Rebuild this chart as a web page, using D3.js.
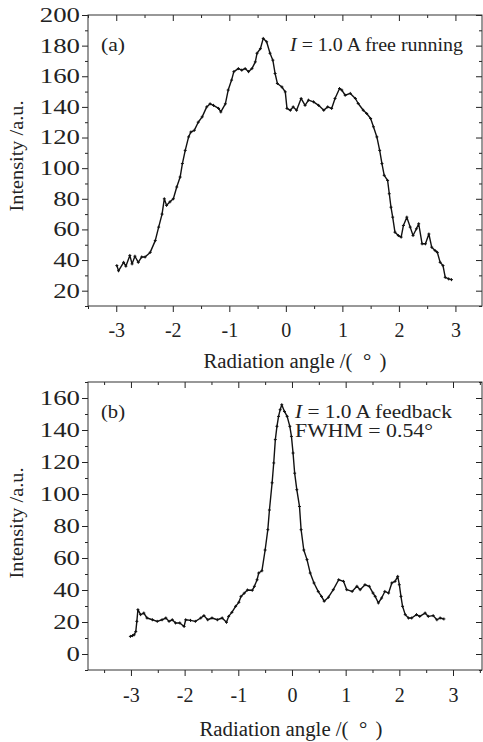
<!DOCTYPE html>
<html>
<head>
<meta charset="utf-8">
<script src="https://d3js.org/d3.v7.min.js"></script>
<style>
  html, body { margin: 0; padding: 0; background: #fff; }
  svg { display: block; }
  text { font-family: "Liberation Serif", "Times New Roman", Times, serif; fill: #222; }
</style>
</head>
<body>
<div id="chart"></div>
<script>
'use strict'

// panel (a) free running
const angleA = [-2.99,-2.96,-2.87,-2.83,-2.76,-2.72,-2.67,-2.61,-2.55,-2.49,-2.40,-2.31,-2.25,-2.19,-2.15,-2.11,-2.05,-1.99,-1.93,-1.87,-1.83,-1.78,-1.72,-1.68,-1.62,-1.55,-1.48,-1.40,-1.34,-1.28,-1.19,-1.15,-1.07,-1.02,-0.96,-0.92,-0.84,-0.78,-0.72,-0.66,-0.60,-0.54,-0.51,-0.45,-0.40,-0.34,-0.28,-0.23,-0.19,-0.15,-0.07,-0.01,0.02,0.08,0.13,0.19,0.27,0.34,0.40,0.49,0.58,0.67,0.74,0.81,0.87,0.95,0.99,1.05,1.14,1.23,1.28,1.37,1.43,1.50,1.55,1.61,1.66,1.70,1.74,1.80,1.83,1.86,1.89,1.93,1.99,2.04,2.08,2.14,2.20,2.25,2.31,2.35,2.41,2.47,2.53,2.58,2.64,2.68,2.73,2.78,2.82,2.88,2.93];
const intensityA = [36.4,33,38.5,36,43,37.5,42.5,38.5,42,42,45,52.7,61.5,70,80,75.7,78,80,87.7,94.2,103,111.6,120.4,123.6,124.7,130,133.5,140,142,141,139,136.7,142,151,157.5,163,165,164,165,163,165,169.4,175,178,184.7,182.5,175,170.5,161.8,155.3,153,149.8,139,137.8,140,137.8,145.5,141,144.4,143.3,141,137.8,140,139,145.5,152,151,147.6,148.8,145.5,142.2,137.8,135.7,132.4,127,120.4,111.6,103,95.3,92,83.3,74.5,68,58.2,56,55,62.6,68,61.5,56,60.4,63.7,50.6,50.6,57,48.4,46.2,45,38.5,36.4,28.7,27.7,27.2];

// panel (b) feedback
const angleB = [-3.01,-2.97,-2.94,-2.91,-2.89,-2.87,-2.82,-2.76,-2.70,-2.60,-2.51,-2.42,-2.35,-2.29,-2.23,-2.17,-2.09,-2.01,-1.98,-1.89,-1.80,-1.70,-1.64,-1.57,-1.49,-1.39,-1.30,-1.22,-1.18,-1.12,-1.05,-0.99,-0.95,-0.89,-0.83,-0.74,-0.70,-0.65,-0.62,-0.56,-0.50,-0.45,-0.42,-0.37,-0.34,-0.31,-0.28,-0.25,-0.22,-0.19,-0.14,-0.09,-0.04,-0.01,0.02,0.05,0.09,0.14,0.17,0.22,0.28,0.34,0.41,0.49,0.55,0.60,0.68,0.77,0.87,0.96,1.02,1.12,1.21,1.27,1.36,1.44,1.51,1.55,1.61,1.67,1.73,1.80,1.86,1.92,1.97,2.00,2.03,2.06,2.11,2.17,2.23,2.32,2.38,2.48,2.54,2.63,2.70,2.76,2.83];
const intensityB = [11,11.5,12,14,20.4,27.7,24.6,25.6,22.5,21.4,20.4,21.4,22.5,20.4,21.4,19.4,19.4,17.2,21.4,21,20.4,22.5,24,21.4,22.5,21.4,22.5,19.8,23.5,26,29.8,32.3,36,38,40,39.8,42.3,46.4,50.6,52,65,77.7,90,107,119.4,134,142.3,148.5,152.7,155.8,151.6,148.5,142.3,136,125.6,113,102.7,92.2,77.7,65,59,50.6,44.4,39,36,33,35.5,40.2,46.4,45.4,40.2,39.1,42.3,40.2,43.3,42.3,38.1,36,31.9,35,39.1,38.1,44.4,45.4,48.5,43.3,36,29.8,24.6,22.5,22.5,24.6,23.5,25.6,23.5,24,21.4,22.5,21.9];

const xTicks = [-3, -2, -1, 0, 1, 2, 3];
const xMinor = [-3.5, -2.5, -1.5, -0.5, 0.5, 1.5, 2.5, 3.5];
const yTicksA = [20, 40, 60, 80, 100, 120, 140, 160, 180, 200];
const yTicksB = [0, 20, 40, 60, 80, 100, 120, 140, 160];

const W = 483, H = 742;
const svg = d3.select("#chart").append("svg")
    .attr("width", W)
    .attr("height", H);

// the source figure is a little stretched sideways, so some texts get a fixed width
function addText(parent, str, size, width) {
    const t = parent.append("text").style("font-size", size + "px");
    if (width) t.attr("textLength", width).attr("lengthAdjust", "spacingAndGlyphs");
    return t.text(str);
}

function drawPanel(p) {
    const x = d3.scaleLinear().domain(p.xDomain).range([p.left, p.right]);
    const y = d3.scaleLinear().domain(p.yDomain).range([p.bottom, p.top]);
    const g = svg.append("g");

    const xMin = xMinor.filter(v => v >= p.xDomain[0] - 1e-6 && v <= p.xDomain[1]);
    const yMin = d3.range(p.yDomain[0], p.yDomain[1] + 1, 20);

    // minor ticks
    g.append("g").attr("transform", `translate(0,${p.bottom})`)
        .call(d3.axisBottom(x).tickValues(xMin).tickSize(3).tickSizeOuter(0).tickFormat(""));
    g.append("g").attr("transform", `translate(0,${p.top})`)
        .call(d3.axisTop(x).tickValues(xMin).tickSize(-3).tickSizeOuter(0).tickFormat(""));
    g.append("g").attr("transform", `translate(${p.left},0)`)
        .call(d3.axisLeft(y).tickValues(yMin).tickSize(3).tickSizeOuter(0).tickFormat(""));
    g.append("g").attr("transform", `translate(${p.right},0)`)
        .call(d3.axisRight(y).tickValues(yMin).tickSize(-3).tickSizeOuter(0).tickFormat(""));

    // major ticks
    g.append("g").attr("class", "xaxis").attr("transform", `translate(0,${p.bottom})`)
        .call(d3.axisBottom(x).tickValues(xTicks).tickSize(6).tickSizeOuter(0).tickPadding(p.xPad).tickFormat(d3.format("d")));
    g.append("g").attr("transform", `translate(0,${p.top})`)
        .call(d3.axisTop(x).tickValues(xTicks).tickSize(-6).tickSizeOuter(0).tickFormat(""));
    g.append("g").attr("class", "yaxis").attr("transform", `translate(${p.left},0)`)
        .call(d3.axisLeft(y).tickValues(p.yTicks).tickSize(6).tickSizeOuter(0).tickPadding(2));
    g.append("g").attr("transform", `translate(${p.right},0)`)
        .call(d3.axisRight(y).tickValues(p.yTicks).tickSize(-6).tickSizeOuter(0).tickFormat(""));

    g.selectAll(".domain").remove();
    g.selectAll(".tick line").attr("stroke", "#222").attr("stroke-width", 1);
    g.selectAll(".tick text")
        .attr("font-family", null)
        .style("font-size", "20px");
    g.selectAll(".xaxis .tick text").text(d => d < 0 ? "-" + Math.abs(d) : d);
    g.selectAll(".yaxis .tick text")
        .attr("textLength", d => String(d).length * 13.4)
        .attr("lengthAdjust", "spacingAndGlyphs");

    // frame
    g.append("rect")
        .attr("x", p.left)
        .attr("y", p.top)
        .attr("width", p.right - p.left)
        .attr("height", p.bottom - p.top)
        .attr("fill", "none")
        .attr("stroke", "#333")
        .attr("stroke-width", 1);

    const pts = p.angle.map((a, i) => [a, p.intensity[i]]);

    g.append("path")
        .datum(pts)
        .attr("fill", "none")
        .attr("stroke", "#111")
        .attr("stroke-width", 1.4)
        .attr("stroke-linejoin", "round")
        .attr("d", d3.line().x(d => x(d[0])).y(d => y(d[1])));

    g.selectAll(".mark")
        .data(pts)
        .enter()
        .append("path")
        .attr("class", "mark")
        .attr("transform", d => `translate(${x(d[0])},${y(d[1])})`)
        .attr("d", "M-1.5,0H1.5M0,-1.5V1.5")
        .attr("stroke", "#111")
        .attr("stroke-width", 1);

    // axis titles
    addText(svg, "Radiation angle /(\u2002\u00b0\u2009\u2009)", 20, 183)
        .attr("x", p.titleX - 91.5)
        .attr("y", p.bottom + p.titleOffset);

    addText(svg, "Intensity /a.u.", 19, 111)
        .attr("transform", `translate(23,${p.titleY + 55.5}) rotate(-90)`);

    // annotations
    addText(svg, p.tag, 19, 24)
        .attr("x", p.left + 13)
        .attr("y", p.top + 36);

    p.notes.forEach((n, i) => {
        const t = svg.append("text")
            .attr("x", n.x)
            .attr("y", p.top + 36 + i * 18.5)
            .attr("textLength", n.width)
            .attr("lengthAdjust", "spacingAndGlyphs")
            .style("font-size", "18px");
        if (n.italic) {
            t.append("tspan").style("font-style", "italic").text("I");
            t.append("tspan").text(n.text);
        } else {
            t.text(n.text);
        }
    });
}

drawPanel({
    left: 88, right: 482, top: 15, bottom: 306,
    xDomain: [-3.5, 3.47], yDomain: [10, 200],
    yTicks: yTicksA,
    angle: angleA, intensity: intensityA,
    xPad: 11, titleX: 295, titleOffset: 62, titleY: 156,
    tag: "(a)",
    notes: [{ x: 290, width: 173, italic: true, text: " = 1.0 A free running" }]
});

drawPanel({
    left: 88, right: 482, top: 382, bottom: 670,
    xDomain: [-3.8, 3.54], yDomain: [-10, 170],
    yTicks: yTicksB,
    angle: angleB, intensity: intensityB,
    xPad: 12, titleX: 291, titleOffset: 66, titleY: 523,
    tag: "(b)",
    notes: [
        { x: 295, width: 157, italic: true, text: " = 1.0 A feedback" },
        { x: 295, width: 138, italic: false, text: "FWHM = 0.54\u00b0" }
    ]
});
</script>
</body>
</html>
